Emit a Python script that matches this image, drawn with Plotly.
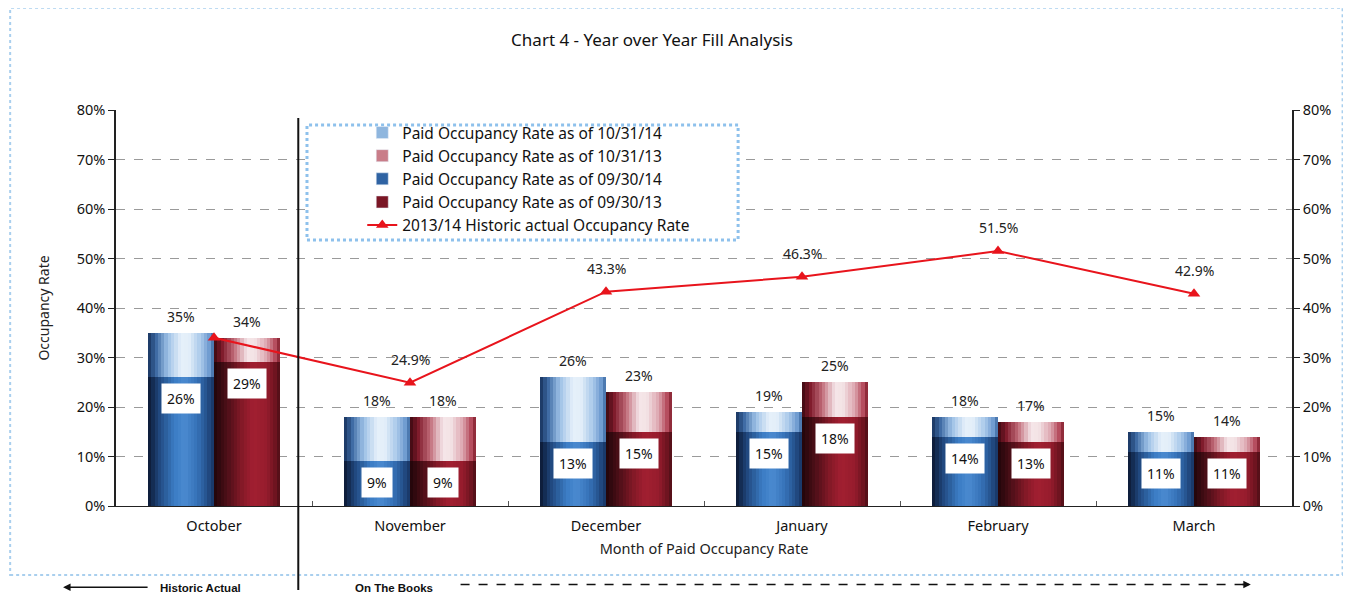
import plotly.graph_objects as go

months = ['October', 'November', 'December', 'January', 'February', 'March']
paid_103114 = [35, 18, 26, 19, 18, 15]
paid_103113 = [34, 18, 23, 25, 17, 14]
paid_093014 = [26, 9, 13, 15, 14, 11]
paid_093013 = [29, 9, 15, 18, 13, 11]
hist_1314 = [34.0, 24.9, 43.3, 46.3, 51.5, 42.9]
hist_labels = ['', '24.9%', '43.3%', '46.3%', '51.5%', '42.9%']

# horizontal "cylinder" shading stops, left edge -> right edge
STOPS = {
    'light_blue': [(0, '#16305a'), (0.12, '#3d6aa3'), (0.3, '#9cc0e6'), (0.5, '#e6f0fa'),
                   (0.62, '#e3eef9'), (0.8, '#a9c9ea'), (0.93, '#6f9bd0'), (1, '#3a67a0')],
    'dark_blue': [(0, '#0b1730'), (0.15, '#1e4378'), (0.4, '#3b7cc4'), (0.55, '#4a8ad0'),
                  (0.75, '#3672b8'), (0.9, '#24508a'), (1, '#173260')],
    'light_red': [(0, '#3a0810'), (0.12, '#7e1a2a'), (0.3, '#c06a78'), (0.5, '#f5e6e9'),
                  (0.62, '#f3e2e5'), (0.8, '#dca3ad'), (0.93, '#b44b5c'), (1, '#7d1a28')],
    'dark_red': [(0, '#200509'), (0.2, '#4e0f18'), (0.45, '#8a1a29'), (0.6, '#a21f31'),
                 (0.8, '#951c2c'), (0.93, '#6d1420'), (1, '#4a0d15')],
}
LEGEND_SWATCH = {'light_blue': '#8fb6de', 'dark_blue': '#2f63a3',
                 'light_red': '#c97d89', 'dark_red': '#7a1625'}

FONT = 'Noto Sans'
BAR_W = 0.337
N_SLICES = 20
xs = list(range(len(months)))


def shade_at(stops, t):
    for (p0, c0), (p1, c1) in zip(stops, stops[1:]):
        if p0 <= t <= p1:
            f = (t - p0) / (p1 - p0)
            a = [int(c0[i:i + 2], 16) for i in (1, 3, 5)]
            b = [int(c1[i:i + 2], 16) for i in (1, 3, 5)]
            return 'rgb(%d,%d,%d)' % tuple(round(x + (y - x) * f) for x, y in zip(a, b))
    return stops[-1][1]


fig = go.Figure()


def shaded_bar(values, shade, name, base_off, rank):
    w = BAR_W / N_SLICES
    for k in range(N_SLICES):
        fig.add_trace(go.Bar(
            x=xs, y=values, offset=base_off + k * w,
            width=w * (1.4 if k < N_SLICES - 1 else 1.0),
            marker=dict(color=shade_at(STOPS[shade], (k + 0.5) / N_SLICES), line=dict(width=0)),
            showlegend=False, hoverinfo='skip', legendgroup=name,
        ))
    fig.add_trace(go.Bar(
        x=[None], y=[None], name=name, legendgroup=name, legendrank=rank,
        marker=dict(color=LEGEND_SWATCH[shade]),
    ))


shaded_bar(paid_103114, 'light_blue', 'Paid Occupancy Rate as of 10/31/14', -BAR_W, 1)
shaded_bar(paid_103113, 'light_red', 'Paid Occupancy Rate as of 10/31/13', 0, 2)
shaded_bar(paid_093014, 'dark_blue', 'Paid Occupancy Rate as of 09/30/14', -BAR_W, 3)
shaded_bar(paid_093013, 'dark_red', 'Paid Occupancy Rate as of 09/30/13', 0, 4)

fig.add_trace(go.Scatter(
    x=xs, y=hist_1314, yaxis='y2', mode='lines+markers',
    name='2013/14 Historic actual Occupancy Rate', legendgroup='hist', legendrank=5,
    line=dict(color='#e8141c', width=2),
    marker=dict(symbol='triangle-up', size=11, color='#e8141c'),
))

annotations = []
for i in xs:
    for off, top, inner in ((-BAR_W / 2, paid_103114[i], paid_093014[i]),
                            (BAR_W / 2, paid_103113[i], paid_093013[i])):
        annotations.append(dict(
            x=i + off, y=top, xref='x', yref='y', text=f'{top}%', showarrow=False,
            yanchor='bottom', yshift=5, font=dict(size=14, color='#222'),
        ))
        annotations.append(dict(
            x=i + off, y=inner, xref='x', yref='y', text=f'{inner}%', showarrow=False,
            yanchor='top', yshift=-6, bgcolor='white', borderpad=5,
            font=dict(size=14, color='#111'),
        ))
    if hist_labels[i]:
        annotations.append(dict(
            x=i, y=hist_1314[i], xref='x', yref='y2', text=hist_labels[i], showarrow=False,
            yanchor='bottom', yshift=12, font=dict(size=14, color='#222'),
        ))

# bottom arrows
annotations += [
    dict(x=-0.045, y=-0.205, xref='paper', yref='paper', text='', showarrow=True,
         ax=86, ay=0, arrowhead=2, arrowsize=1, arrowwidth=1.5, arrowcolor='#111'),
    dict(x=0.072, y=-0.207, xref='paper', yref='paper', text='<b>Historic Actual</b>',
         xanchor='center', yanchor='middle', showarrow=False,
         font=dict(size=11.5, color='#111', family='Liberation Sans')),
    dict(x=0.236, y=-0.207, xref='paper', yref='paper', text='<b>On The Books</b>',
         xanchor='center', yanchor='middle', showarrow=False,
         font=dict(size=11.5, color='#111', family='Liberation Sans')),
    dict(x=0.965, y=-0.198, xref='paper', yref='paper', text='', showarrow=True,
         ax=-10, ay=0, arrowhead=2, arrowsize=1, arrowwidth=1.5, arrowcolor='#111'),
]

shapes = [
    # outer frame
    dict(type='rect', xref='paper', yref='paper', x0=-0.090, x1=1.043, y0=-0.174, y1=1.258,
         line=dict(color='#a9cfee', width=2, dash='dot'), layer='below'),
    # legend box
    dict(type='rect', xref='paper', yref='paper', x0=0.1624, x1=0.529, y0=0.672, y1=0.962,
         line=dict(color='#8ec1ec', width=3, dash='dot'), fillcolor='white', layer='above'),
    # historic / on-the-books divider
    dict(type='line', xref='x', yref='paper', x0=0.43, x1=0.43, y0=-0.212, y1=0.98,
         line=dict(color='#111', width=2)),
    # dashed arrow shaft
    dict(type='line', xref='paper', yref='paper', x0=0.293, x1=0.96, y0=-0.198, y1=-0.198,
         line=dict(color='#111', width=1.5, dash='dash')),
]

fig.update_layout(
    width=1343, height=588,
    paper_bgcolor='white', plot_bgcolor='white',
    font=dict(family=FONT, color='#222', size=14),
    margin=dict(l=108, r=59, t=102, b=90),
    barmode='overlay', bargap=0,
    title=dict(text='Chart 4 - Year over Year Fill Analysis', x=0.4795, y=0.946,
               xanchor='center', yanchor='middle', font=dict(size=17, color='#111')),
    xaxis=dict(
        range=[-0.5, 5.5], tickvals=xs, ticktext=months, ticks='', showgrid=False,
        showline=True, linecolor='#222', linewidth=1, zeroline=False,
        ticklabelstandoff=7,
        minor=dict(tickvals=[i + 0.5 for i in xs[:-1]], ticks='inside', ticklen=5,
                   tickcolor='#555', showgrid=False),
        title=dict(text='Month of Paid Occupancy Rate', standoff=9, font=dict(size=14.5)),
        tickfont=dict(size=14.5, color='#111'),
    ),
    yaxis=dict(
        range=[0, 80], dtick=10, ticksuffix='%', showgrid=True, gridcolor='#9a9a9a',
        griddash='dash', gridwidth=1, showline=True, linecolor='#222', linewidth=1.5,
        ticks='outside', ticklen=6, tickcolor='#222', zeroline=False,
        tickfont=dict(size=14.5, color='#111'),
        title=dict(text='Occupancy Rate', standoff=24, font=dict(size=14)),
    ),
    yaxis2=dict(
        range=[0, 80], dtick=10, ticksuffix='%', overlaying='y', side='right',
        showgrid=False, showline=True, linecolor='#222', linewidth=1.5,
        ticks='outside', ticklen=6, tickcolor='#222', zeroline=False,
        tickfont=dict(size=14.5, color='#111'),
    ),
    legend=dict(x=0.2094, y=0.985, xanchor='left', yanchor='top', bgcolor='rgba(0,0,0,0)',
                font=dict(size=15.5, color='#111'), tracegroupgap=1,
                traceorder='normal'),
    annotations=annotations,
    shapes=shapes,
)

fig.write_html('out.html')
